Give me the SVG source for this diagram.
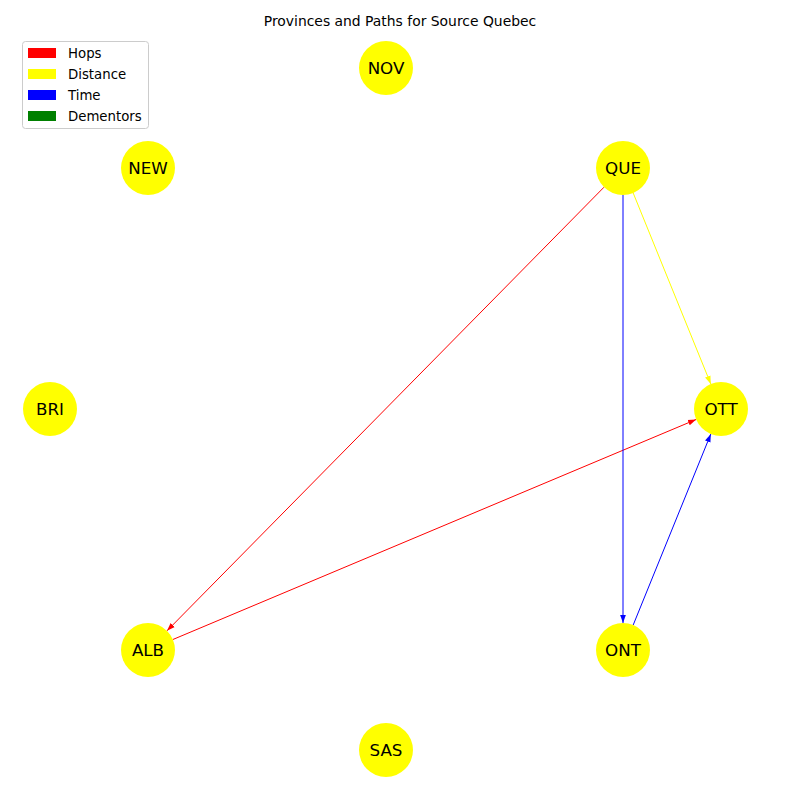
<svg xmlns="http://www.w3.org/2000/svg" width="800" height="800" viewBox="0 0 800 800">
  <style>
    text { font-family: "DejaVu Sans", "Liberation Sans", sans-serif; fill: #000; }
    .title { font-size: 13.9px; text-anchor: middle; }
    .node circle { fill: #ffff00; }
    .node text { font-size: 16.7px; text-anchor: middle; }
    .edge { fill: none; stroke-width: 1; }
    .legend-text { font-size: 13.3px; }
  </style>
  <defs>
    <marker id="arrow-red" viewBox="0 -4 10 8" refX="9" refY="0" markerWidth="9" markerHeight="8" markerUnits="userSpaceOnUse" orient="auto">
      <path d="M0,-3.2 L9,0 L0,3.2 z" fill="#ff0000"/>
    </marker>
    <marker id="arrow-yellow" viewBox="0 -4 10 8" refX="9" refY="0" markerWidth="9" markerHeight="8" markerUnits="userSpaceOnUse" orient="auto">
      <path d="M0,-3.2 L9,0 L0,3.2 z" fill="#ffff00"/>
    </marker>
    <marker id="arrow-blue" viewBox="0 -4 10 8" refX="9" refY="0" markerWidth="9" markerHeight="8" markerUnits="userSpaceOnUse" orient="auto">
      <path d="M0,-3.2 L9,0 L0,3.2 z" fill="#0000ff"/>
    </marker>
  </defs>

  <rect width="800" height="800" fill="#ffffff"/>

  <text class="title" x="400" y="26">Provinces and Paths for Source Quebec</text>

  <!-- directed edges, one colour per metric -->
  <g id="edges">
    <path class="edge" d="M604,187.2 L167,630.8" stroke="#ff0000" marker-end="url(#arrow-red)"/>
    <path class="edge" d="M172.9,639.5 L696.1,419.5" stroke="#ff0000" marker-end="url(#arrow-red)"/>
    <path class="edge" d="M633.2,193 L710.8,384" stroke="#ffff00" marker-end="url(#arrow-yellow)"/>
    <path class="edge" d="M623,195 L623,623" stroke="#0000ff" marker-end="url(#arrow-blue)"/>
    <path class="edge" d="M633.2,625 L710.8,434" stroke="#0000ff" marker-end="url(#arrow-blue)"/>
  </g>

  <!-- provinces -->
  <g id="node-NOV" class="node"><circle cx="386" cy="68" r="27"/><text x="386" y="74">NOV</text></g>
  <g id="node-NEW" class="node"><circle cx="148" cy="168" r="27"/><text x="148" y="174">NEW</text></g>
  <g id="node-QUE" class="node"><circle cx="623" cy="168" r="27"/><text x="623" y="174">QUE</text></g>
  <g id="node-BRI" class="node"><circle cx="50" cy="409" r="27"/><text x="50" y="415">BRI</text></g>
  <g id="node-OTT" class="node"><circle cx="721" cy="409" r="27"/><text x="721" y="415">OTT</text></g>
  <g id="node-ALB" class="node"><circle cx="148" cy="650" r="27"/><text x="148" y="656">ALB</text></g>
  <g id="node-ONT" class="node"><circle cx="623" cy="650" r="27"/><text x="623" y="656">ONT</text></g>
  <g id="node-SAS" class="node"><circle cx="386" cy="750" r="27"/><text x="386" y="756">SAS</text></g>

  <!-- legend -->
  <g id="legend">
    <rect x="22.5" y="41.5" width="126" height="87" rx="3" ry="3" fill="#ffffff" fill-opacity="0.8" stroke="#cccccc" stroke-width="1"/>
    <rect x="28" y="48" width="28" height="10" fill="#ff0000"/>
    <text class="legend-text" x="68" y="58">Hops</text>
    <rect x="28" y="69" width="28" height="10" fill="#ffff00"/>
    <text class="legend-text" x="68" y="79">Distance</text>
    <rect x="28" y="90" width="28" height="10" fill="#0000ff"/>
    <text class="legend-text" x="68" y="100">Time</text>
    <rect x="28" y="111" width="28" height="10" fill="#008000"/>
    <text class="legend-text" x="68" y="121">Dementors</text>
  </g>
</svg>
